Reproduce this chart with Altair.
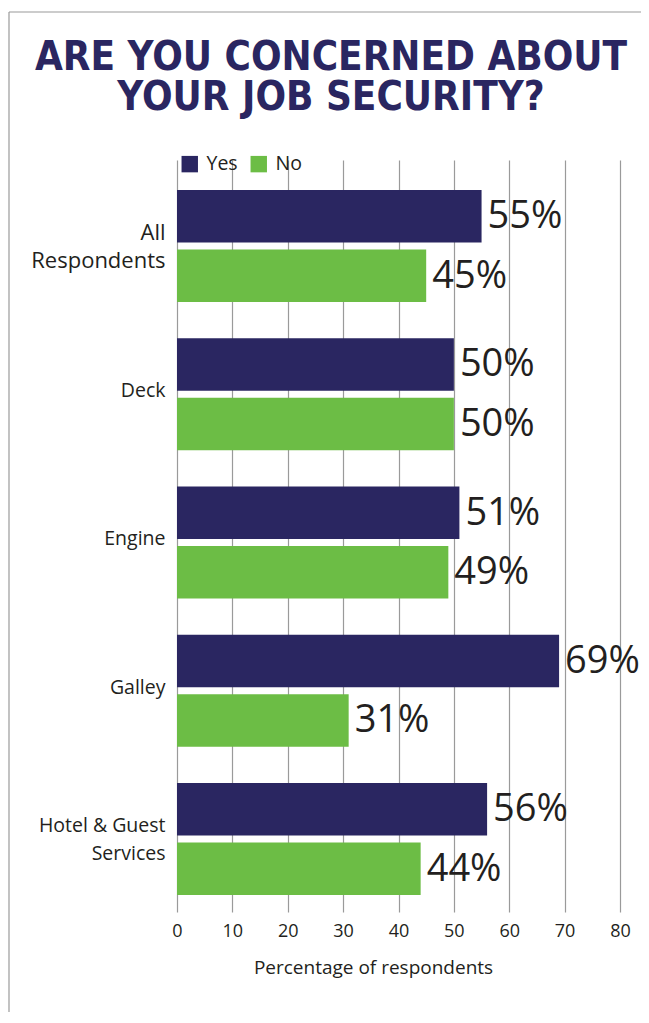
import altair as alt
import pandas as pd

categories = ["All Respondents", "Deck", "Engine", "Galley", "Hotel & Guest Services"]
yes_values = [55, 50, 51, 69, 56]
no_values = [45, 50, 49, 31, 44]
responses = ["Yes", "No"]
x_ticks = [0, 10, 20, 30, 40, 50, 60, 70, 80]
title_lines = ["ARE YOU CONCERNED ABOUT", "YOUR JOB SECURITY?"]
x_title = "Percentage of respondents"

rows = []
for c, yv, nv in zip(categories, yes_values, no_values):
    rows.append({"Category": c, "Response": "Yes", "Value": yv})
    rows.append({"Category": c, "Response": "No", "Value": nv})
df = pd.DataFrame(rows)
df["Label"] = df["Value"].astype(str) + "%"

FONT = "Open Sans"
NAVY = "#2a2661"
GREEN = "#6cbd45"
TEXT = "#231f20"
GRID = "#9a9a9a"

W, H = 443, 752
PL, PT, PR, PB = 169, 152, 21, 100

multi = "indexof(['All Respondents', 'Hotel & Guest Services'], datum.value) >= 0"
y_enc = alt.Y(
    "Category:N", sort=categories, title=None,
    scale=alt.Scale(paddingInner=0.2445, paddingOuter=0.1585, align=0.638),
    axis=alt.Axis(
        domain=False, ticks=False, labelPadding=12, labelFont=FONT,
        labelFontSize={"condition": {"test": "datum.value == 'All Respondents'", "value": 22}, "value": 19.5},
        labelOffset={"condition": {"test": multi, "value": -13}, "value": -3},
        labelColor=TEXT, labelLineHeight=28, labelLimit=300,
        labelExpr="datum.label == 'All Respondents' ? ['All', 'Respondents'] : datum.label == 'Hotel & Guest Services' ? ['Hotel & Guest', 'Services'] : datum.label",
    ),
)
yoff = alt.YOffset("Response:N", sort=responses,
                   scale=alt.Scale(paddingInner=0.1176, paddingOuter=0))
x_enc = alt.X(
    "Value:Q",
    scale=alt.Scale(domain=[0, 80], nice=False),
    axis=alt.Axis(
        values=x_ticks, grid=True, gridColor=GRID, gridWidth=1.2, domain=False, ticks=False,
        labelFont=FONT, labelFontSize=18, labelColor=TEXT, labelPadding=10, labelFlush=False,
        title=x_title, titleFont=FONT, titleFontSize=19, titleFontWeight="normal",
        titleColor=TEXT, titleX=196, titleY=61, titleBaseline="alphabetic", titleAlign="center",
    ),
)

base = alt.Chart(df)
bars = base.mark_bar().encode(
    x=x_enc, y=y_enc, yOffset=yoff,
    color=alt.Color(
        "Response:N",
        scale=alt.Scale(domain=responses, range=[NAVY, GREEN]),
        legend=alt.Legend(
            title=None, orient="none", legendX=3, legendY=-6, direction="horizontal",
            symbolType="square", symbolSize=270, symbolStrokeWidth=0, symbolOpacity=1,
            labelFont=FONT, labelFontSize=19.5, labelColor=TEXT, labelOffset=7,
            columnPadding=11, padding=0,
        ),
    ),
)
labels = base.mark_text(
    align="left", baseline="middle", dx=6, dy=1, font=FONT, fontSize=38, color=TEXT
).encode(x="Value:Q", y=alt.Y("Category:N", sort=categories), yOffset=alt.YOffset("Response:N", sort=responses), text="Label:N")

frame_df = pd.DataFrame({"k": [0]})
top_line = alt.Chart(frame_df).mark_rule(color="#9a9a9a", strokeWidth=1.2).encode(
    x=alt.value(-168), x2=alt.value(W + PR + 10), y=alt.value(-148)
)
left_line = alt.Chart(frame_df).mark_rule(color="#9a9a9a", strokeWidth=1.2).encode(
    x=alt.value(-168), y=alt.value(-148), y2=alt.value(H + PB + 10)
)

chart = alt.layer(bars, labels, top_line, left_line).properties(
    width=W, height=H,
    autosize=alt.AutoSizeParams(type="none"),
    padding={"left": PL, "top": PT, "right": PR, "bottom": PB},
    title=alt.TitleParams(
        text=title_lines, font="DejaVu Sans Condensed", fontSize=40, fontWeight="bold",
        color=NAVY, anchor="middle", frame="group", dx=-67.5, lineHeight=40,
        baseline="alphabetic", offset=0, dy=139,
    ),
).configure_view(stroke=None)

chart.save("out.html", embed_options={"renderer": "svg", "actions": False})
